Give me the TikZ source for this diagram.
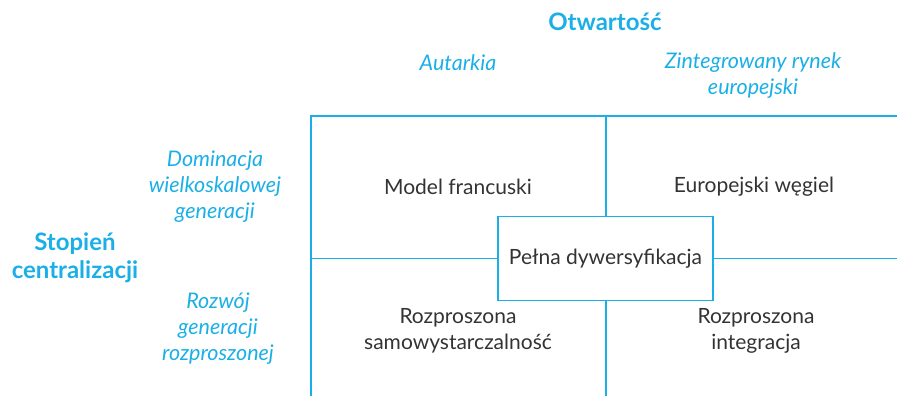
\documentclass[tikz,border=0pt]{standalone}
\usepackage{fontspec}
\setmainfont{Lato}
\definecolor{cyanA}{HTML}{1AAFE6}
\definecolor{bodyT}{HTML}{333333}
\begin{document}
\begin{tikzpicture}[x=1pt,y=-1pt,
  grid/.style={draw=cyanA,line width=1.4pt},
  cell/.style={text=bodyT,font=\fontsize{21}{26}\selectfont,align=center,inner sep=0pt},
  axis/.style={text=cyanA,font=\fontsize{24}{28}\selectfont\bfseries,align=center,inner sep=0pt},
  sub/.style={text=cyanA,font=\fontsize{21.5}{26}\selectfont\itshape,align=center,inner sep=0pt}]
\useasboundingbox (0,0) rectangle (897,396);
% grid
\coordinate (tl) at (311,116);
\coordinate (tr) at (897,116);
\coordinate (bl) at (311,396);
\coordinate (tm) at (606,116);
\coordinate (bm) at (606,396);
\coordinate (ml) at (311,258.5);
\coordinate (mr) at (897,258.5);
\node[grid,draw,minimum width=215pt,minimum height=84pt,inner sep=0pt,fill=white] (box) at (605.5,258.5) {};
\draw[grid] (tr) -- (tl) -- (bl);
\draw[grid] (tm) -- (box.north -| tm);
\draw[grid] (box.south -| bm) -- (bm);
\draw[grid] (ml) -- (box.west);
\draw[grid] (box.east) -- (mr);
\node[cell] (full) at (box.center) {Pełna dywersyfikacja};
% cells
\node[cell] (mf) at (458,187) {Model francuski};
\node[cell] (ew) at (754,187) {Europejski węgiel};
\node[cell] (rs) at (458,331) {Rozproszona\\samowystarczalność};
\node[cell] (ri) at (756,331) {Rozproszona\\integracja};
% axes
\node[axis] (otw) at (605,22) {Otwartość};
\node[axis] (stop) at (75,258) {Stopień\\centralizacji};
\node[sub] (aut) at (458,63) {Autarkia};
\node[sub] (zin) at (753,76) {Zintegrowany rynek\\europejski};
\node[sub] (dom) at (215,187) {Dominacja\\wielkoskalowej\\generacji};
\node[sub] (roz) at (218,329) {Rozwój\\generacji\\rozproszonej};
\end{tikzpicture}
\end{document}
